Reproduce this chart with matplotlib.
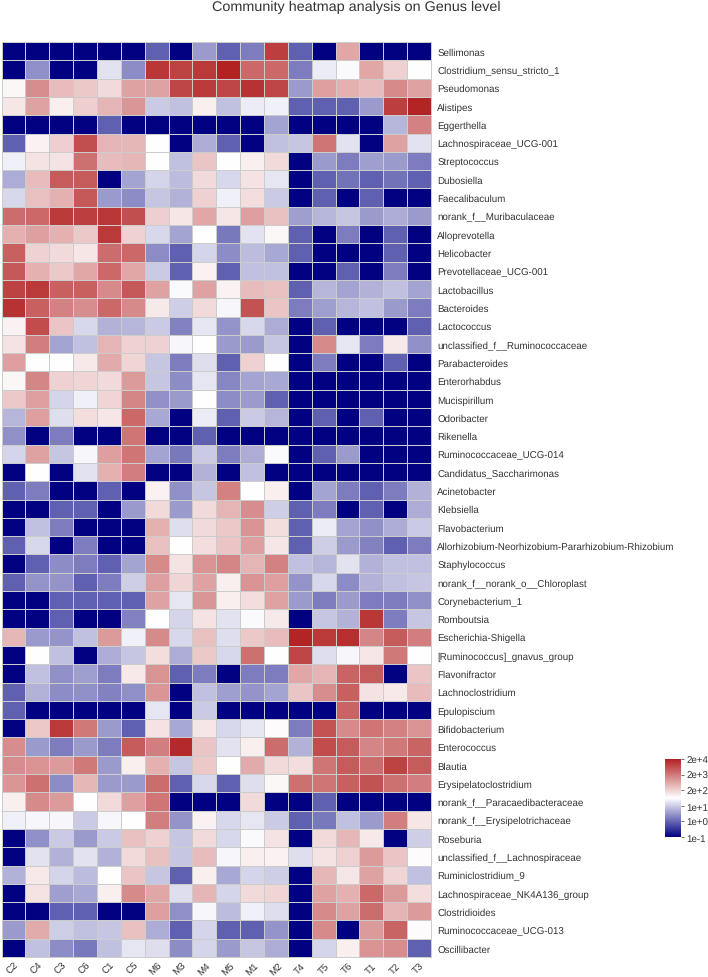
import numpy as np
import matplotlib
matplotlib.use("Agg")
import matplotlib.pyplot as plt
from matplotlib.colors import LinearSegmentedColormap, Normalize

plt.rcParams['font.family'] = ['Liberation Sans', 'DejaVu Sans']
plt.rcParams['text.hinting'] = 'none'

samples = ["C2","C4","C3","C6","C1","C5","M6","M3","M4","M5","M1","M2","T4","T5","T6","T1","T2","T3"]
genera = ["Sellimonas","Clostridium_sensu_stricto_1","Pseudomonas","Alistipes","Eggerthella",
 "Lachnospiraceae_UCG-001","Streptococcus","Dubosiella","Faecalibaculum","norank_f__Muribaculaceae",
 "Alloprevotella","Helicobacter","Prevotellaceae_UCG-001","Lactobacillus","Bacteroides","Lactococcus",
 "unclassified_f__Ruminococcaceae","Parabacteroides","Enterorhabdus","Mucispirillum","Odoribacter",
 "Rikenella","Ruminococcaceae_UCG-014","Candidatus_Saccharimonas","Acinetobacter","Klebsiella",
 "Flavobacterium","Allorhizobium-Neorhizobium-Pararhizobium-Rhizobium","Staphylococcus",
 "norank_f__norank_o__Chloroplast","Corynebacterium_1","Romboutsia","Escherichia-Shigella",
 "[Ruminococcus]_gnavus_group","Flavonifractor","Lachnoclostridium","Epulopiscium","Bifidobacterium",
 "Enterococcus","Blautia","Erysipelatoclostridium","norank_f__Paracaedibacteraceae",
 "norank_f__Erysipelotrichaceae","Roseburia","unclassified_f__Lachnospiraceae","Ruminiclostridium_9",
 "Lachnospiraceae_NK4A136_group","Clostridioides","Ruminococcaceae_UCG-013","Oscillibacter"]

# log10 abundance per genus (rows) and sample (columns)
log10_abundance = [
[-1,-1,-1,-1,-1,-1,0,-1,.6,0,.3,3.95,0,-1,2.7,-1,-1,-1],
[-1,.5,-1,-1,1.35,.45,4.05,3.9,4.0,4.3,3.45,3.45,.3,1.45,1.6,2.7,2.2,1.65],
[1.75,3.0,2.45,2.3,2.1,2.75,2.75,3.85,4.0,3.85,4.1,3.85,.6,2.8,2.6,2.45,3.05,2.75],
[1.95,2.75,1.85,2.25,2.55,2.9,1.1,1.0,1.85,1.0,1.45,1.5,0,0,0,.6,3.95,4.25],
[-1,-1,-1,-1,0,-1,-1,-1,-1,-1,-1,.7,-1,-1,-1,-1,.9,3.15],
[0,1.8,2.25,3.75,2.55,2.5,1.65,-1,.8,0,-1,1.0,1.05,3.3,1.35,-1,2.75,1.35],
[1.5,2.0,2.0,3.35,2.45,2.5,1.65,1.0,2.35,1.65,1.85,2.1,-1,.6,.3,.65,.6,.3],
[.8,2.45,3.6,3.6,-1,.7,1.2,.95,2.1,1.25,2.0,1.4,-1,0,.2,0,.2,0],
[1.25,2.4,2.6,3.65,.6,.45,1.05,.85,2.2,1.5,2.05,1.1,-1,0,-1,0,-1,-1],
[3.4,3.45,4.0,3.95,4.05,3.75,2.25,1.95,2.7,1.95,2.8,2.4,.65,.9,1.05,.6,.8,.6],
[2.6,2.8,2.6,2.3,4.0,2.2,1.25,.7,1.65,.25,1.35,1.75,0,-1,.3,-1,0,-1],
[3.55,2.2,2.1,1.95,3.4,3.45,.45,0,1.2,.45,.95,.75,0,-1,-1,-1,0,-1],
[3.65,2.6,2.3,2.7,3.45,2.7,1.1,0,1.8,0,1.0,1.0,-1,-1,0,-1,.3,-1],
[3.9,4.0,3.55,3.55,3.05,3.65,2.75,1.6,2.75,1.8,2.45,2.4,0,.9,.7,.85,1.0,.7],
[4.1,3.55,3.15,3.0,3.45,3.05,1.9,1.15,2.1,1.55,3.7,2.35,.3,.65,.9,1.0,.6,.3],
[1.8,3.8,2.35,1.25,.85,.9,1.1,.35,1.4,.55,1.25,.8,-1,0,-1,-1,-1,0],
[2.0,3.2,.7,1.0,2.55,2.2,2.2,1.55,1.65,.6,.6,1.05,-1,3.05,1.4,.3,1.9,.5],
[2.8,1.65,1.65,1.9,2.65,2.15,1.05,.3,1.3,0,2.2,1.65,-1,.3,-1,-1,0,-1],
[1.75,3.1,2.2,2.15,2.1,2.85,1.05,.45,1.4,.4,.7,.75,-1,-1,-1,-1,-1,-1],
[2.3,2.8,1.2,1.5,2.15,3.1,.5,.6,1.65,.45,.6,0,-1,-1,-1,-1,-1,-1],
[.9,2.8,1.3,2.05,1.95,3.45,.75,-1,1.45,0,1.1,.9,-1,0,-1,0,-1,-1],
[.5,-1,.3,-1,-1,3.3,-1,-1,0,-1,-1,-1,-1,-1,-1,-1,-1,-1],
[1.2,2.75,1.05,1.55,2.8,3.3,.7,.25,1.1,.3,.8,1.6,-1,0,.6,-1,-1,-1],
[-1,1.65,-1,1.35,2.6,3.2,-1,-1,.85,-1,1.0,-1,-1,-1,-1,-1,-1,-1],
[0,.3,-1,-1,0,-1,1.8,.5,1.05,3.15,1.65,1.85,-1,.7,.3,0,.3,.85],
[-1,-1,0,0,-1,.6,2.1,.6,2.1,2.55,3.0,1.15,0,.3,-1,0,-1,.8],
[-1,1.0,.3,-1,-1,-1,2.6,1.3,2.1,2.3,2.95,2.05,0,1.45,.7,.5,.8,1.1],
[0,1.25,-1,.3,-1,-1,2.4,1.65,2.05,2.35,2.8,1.95,0,1.15,.6,.35,0,.3],
[-1,0,.45,.3,0,.7,3.05,2.0,2.95,3.1,2.55,3.15,1.0,.9,1.35,.85,1.0,1.0],
[0,.55,.55,0,.3,1.15,2.8,2.15,2.75,1.85,2.95,2.8,.55,1.25,.45,.85,1.0,1.05],
[-1,-1,0,0,0,0,2.75,1.4,2.9,1.85,2.05,2.75,.6,.3,.6,.3,.3,.5],
[-1,-1,0,-1,-1,.35,1.65,1.2,2.0,1.35,1.6,1.9,-1,1.05,.85,4.05,.3,1.05],
[2.5,.6,.55,1.0,2.85,1.5,3.05,1.25,2.4,1.3,2.3,2.45,4.25,4.0,4.15,3.1,3.6,3.2],
[-1,1.65,1.0,-1,.8,1.05,2.05,.8,2.3,1.25,3.35,1.65,3.85,1.3,1.55,1.95,3.25,1.65],
[-1,1.0,.5,.65,.3,1.9,2.95,0,.3,-1,.3,.3,2.7,2.55,3.5,3.6,-1,2.35],
[0,.85,.45,.5,.35,.5,2.9,-1,1.0,.65,.55,.7,2.35,3.0,3.55,2.0,1.9,2.45],
[0,-1,-1,-1,-1,-1,1.4,-1,1.1,-1,-1,-1,-1,-1,3.5,-1,-1,-1],
[-1,2.3,4.0,3.25,.6,0,2.0,.75,1.95,1.25,1.4,1.7,.3,3.7,3.05,3.3,3.15,2.95],
[3.0,.6,.3,.6,.3,3.6,3.2,4.2,2.35,1.35,1.85,3.4,.85,3.8,3.6,3.1,3.25,3.5],
[3.0,2.95,2.85,3.25,.6,1.85,2.6,1.05,2.3,1.65,2.65,2.1,2.05,3.3,3.6,3.4,3.9,3.6],
[2.9,3.35,.45,2.5,.6,.6,3.4,0,1.25,0,1.3,1.75,3.35,3.3,3.55,3.7,3.35,3.2],
[1.85,3.05,2.85,1.65,2.1,2.8,3.3,-1,-1,-1,2.1,-1,-1,0,-1,-1,-1,-1],
[1.5,1.55,1.55,1.1,1.55,1.65,3.2,.55,1.8,1.25,1.4,1.1,0,.25,1.0,.6,3.2,1.95],
[-1,.5,1.1,.6,1.1,2.4,2.2,1.05,2.1,1.25,1.6,2.0,-1,2.1,2.5,1.9,-1,1.15],
[-1,1.35,.85,1.35,.85,2.1,2.4,1.05,2.45,1.55,1.85,1.8,1.3,2.0,2.2,2.85,2.35,1.7],
[.85,1.9,1.2,.95,1.65,2.35,1.05,0,1.85,.75,1.2,1.15,-1,2.5,1.95,2.75,2.15,1.0],
[-1,2.0,.65,.75,1.85,3.05,2.7,1.3,2.55,1.2,2.1,2.15,-1,2.75,2.6,3.45,2.85,2.05],
[-1,-1,0,0,-1,-1,2.8,.5,1.55,.95,1.5,1.3,-1,3.05,2.75,3.4,2.55,2.85],
[.6,2.65,1.15,1.0,1.05,2.4,.8,0,1.2,0,0,.55,-1,3.05,-1,2.85,3.5,1.7],
[-1,1.0,.45,.25,1.0,1.4,1.3,.45,1.2,.6,1.05,.8,-1,1.2,1.85,2.95,3.0,0],
]

cbar_ticks = [-1.0, 0.06, 1.12, 2.18, 3.24, 4.3]
cbar_labels = ["1e-1", "1e+0", "1e+1", "2e+2", "2e+3", "2e+4"]
title = "Community heatmap analysis on Genus level"

W, H = 708, 978
fig = plt.figure(figsize=(W/100, H/100), dpi=100, facecolor='white')

def box(x0, y0, x1, y1):
    return [x0/W, 1-y1/H, (x1-x0)/W, (y1-y0)/H]

ax = fig.add_axes(box(1.5, 43, 431, 958))
cmap = LinearSegmentedColormap.from_list("navy_white_red", ["#000080", "#ffffff", "#b22222"])
norm = Normalize(-1, 4.3)
data = np.array(log10_abundance, dtype=float)
mesh = ax.pcolormesh(data, cmap=cmap, norm=norm, edgecolors='#cccccc', linewidth=0.6)
ax.set_xlim(0, len(samples))
ax.set_ylim(len(genera), 0)
for s in ax.spines.values():
    s.set_color('#cccccc')
    s.set_linewidth(0.7)

ax.set_xticks(np.arange(len(samples)) + 0.5)
ax.set_xticklabels(samples, rotation=45, ha='center', va='center', fontsize=7, color='#333333')
ax.tick_params(axis='x', length=0, pad=8)
ax.yaxis.tick_right()
ax.set_yticks(np.arange(len(genera)) + 0.5)
ax.set_yticklabels(genera, fontsize=7, color='#333333')
ax.tick_params(axis='y', length=0, pad=4.5)

fig.text(356/W, 1-7/H, title, ha='center', va='center', fontsize=10.4, color='#333333')

cax = fig.add_axes(box(665, 760, 681, 838))
cb = fig.colorbar(mesh, cax=cax, ticks=cbar_ticks)
cb.ax.set_yticklabels(cbar_labels, fontsize=7, color='#333333')
cb.ax.tick_params(length=2.5, width=0.6, color='#555555', pad=1.5)
cb.outline.set_visible(False)

fig.savefig("out.png", dpi=100)
